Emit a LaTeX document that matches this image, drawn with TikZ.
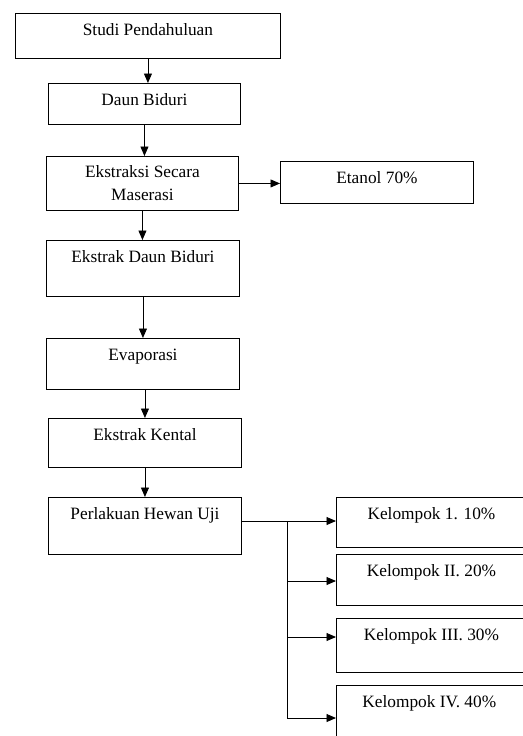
\documentclass[tikz,border=0pt]{standalone}
\usepackage{fontspec}
\setmainfont{Liberation Serif}
\usetikzlibrary{arrows.meta}
\newcommand\lebarkiri{193pt}
\newcommand\lebarkanan{190pt}
\newcommand\tinggiteks{22pt}
\newcommand\cabangx{287pt}

\begin{document}
\begin{tikzpicture}[yscale = -1, line width = 0.9pt,
	kotak/.style = {draw, anchor = north west, inner sep = 0pt, align = center, font = \fontsize{17.3}{23}\selectfont},
	atas/.style = {text height = \tinggiteks, text depth = #1},
	panah/.style = {-{Triangle[length = 9.5pt, width = 8pt]}}]
	\useasboundingbox (0, 0) rectangle (522pt, 736pt);

	% Alur utama:
	\node [kotak, minimum width = 265pt, atas = 23pt] (studi) at (15pt, 13pt) {Studi Pendahuluan};
	\node [kotak, minimum width = 192pt, atas = 19pt] (daun) at (48pt, 83pt) {Daun Biduri};
	\node [kotak, minimum width = 192pt, minimum height = 54pt] (ekstraksi) at (46pt, 156pt) {Ekstraksi Secara\\Maserasi};
	\node [kotak, minimum width = 193pt, atas = 20pt] (etanol) at (280pt, 161pt) {Etanol 70\%};
	\node [kotak, minimum width = \lebarkiri, atas = 34pt] (ekstrak) at (46pt, 240pt) {Ekstrak Daun Biduri};
	\node [kotak, minimum width = \lebarkiri, atas = 29pt] (evaporasi) at (46pt, 338pt) {Evaporasi};
	\node [kotak, minimum width = \lebarkiri, atas = 27pt] (kental) at (48pt, 418pt) {Ekstrak Kental};
	\node [kotak, minimum width = \lebarkiri, atas = 35pt] (perlakuan) at (48pt, 497pt) {Perlakuan Hewan Uji};

	\begin{scope}[panah]
		\draw (studi.south) -- (studi.south |- daun.north);
		\draw (daun.south) -- (daun.south |- ekstraksi.north);
		\draw (ekstraksi.east) -- (ekstraksi.east -| etanol.west);
		\draw (ekstraksi.south) -- (ekstraksi.south |- ekstrak.north);
		\draw (ekstrak.south) -- (ekstrak.south |- evaporasi.north);
		\draw (kental.north |- evaporasi.south) -- (kental.north);
		\draw (kental.south) -- (kental.south |- perlakuan.north);
	\end{scope}

	% Kelompok perlakuan:
	\foreach \nama/\y/\tinggi/\teks in {
		k1/497pt/28pt/Kelompok 1. 10\%, k2/554pt/29pt/Kelompok II. 20\%,
		k3/618pt/32pt/Kelompok III. 30\%, k4/685pt/38pt/Kelompok IV. 40\%
	} {
		\node [kotak, minimum width = \lebarkanan, atas = \tinggi] (\nama) at (336pt, \y) {\teks};
	}

	% Percabangan:
	\coordinate (cabang) at (\cabangx, 521pt);
	\foreach \nama/\y in {k2/581pt, k3/637pt, k4/718pt} {
		\coordinate (c\nama) at (\cabangx, \y);
		\draw [panah] (c\nama) -- (c\nama -| \nama.west);
	}
	\draw [panah] (perlakuan.east |- cabang) -- (cabang -| k1.west);
	\draw (cabang) -- (ck4);
\end{tikzpicture}
\end{document}
